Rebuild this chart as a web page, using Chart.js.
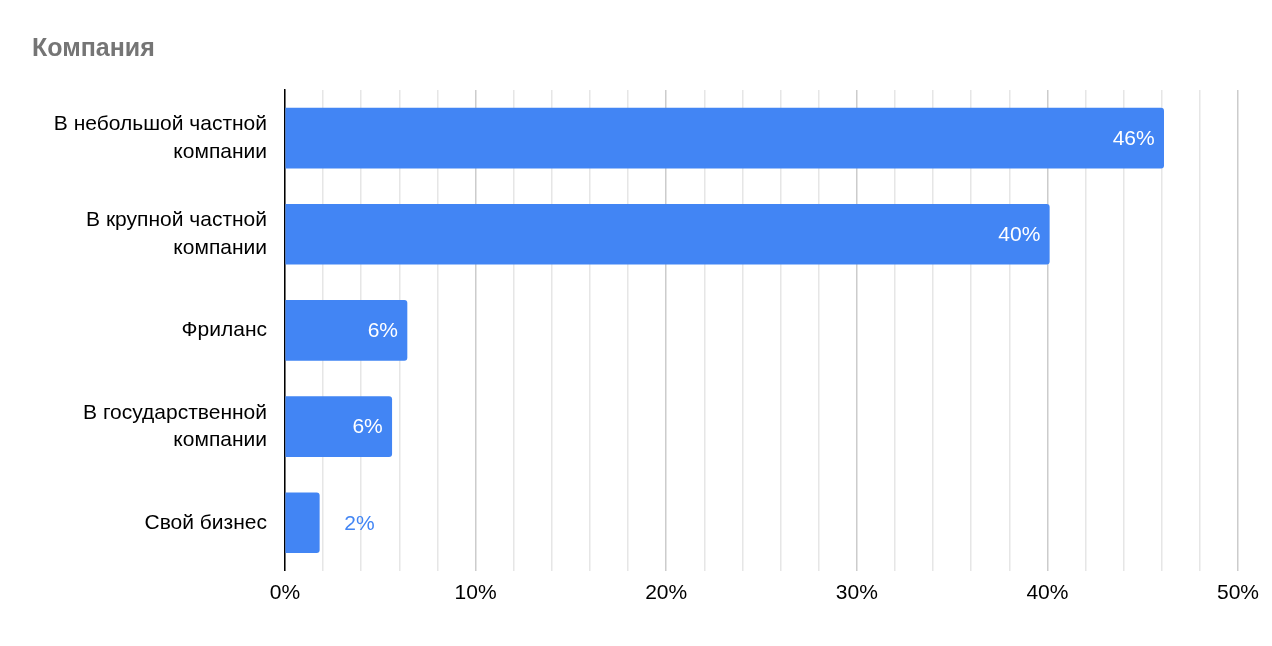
<!DOCTYPE html>
<html>
<head>
<meta charset="utf-8">
<script src="https://cdn.jsdelivr.net/npm/chart.js@4"></script>
<style>
  html, body { margin: 0; padding: 0; background: #fff; }
  #wrap { width: 1272px; height: 646px; position: relative; }
  #title { position: absolute; left: 32px; top: 33px; font: bold 25px "Liberation Sans", Arial, sans-serif; color: #757575; }
</style>
</head>
<body>
<div id="wrap">
  <div id="title">Компания</div>
  <canvas id="c" width="1272" height="646"></canvas>
</div>
<script>
const categories = [
  ['В небольшой частной', 'компании'],
  ['В крупной частной', 'компании'],
  'Фриланс',
  ['В государственной', 'компании'],
  'Свой бизнес'
];
const values = [46.1, 40.1, 6.4, 5.6, 1.8];
const valueLabels = ['46%', '40%', '6%', '6%', '2%'];
const FONT = '"Liberation Sans", Arial, sans-serif';

// подписи значений: внутри столбца белым, у коротких — снаружи синим
const valueLabelPlugin = {
  id: 'valueLabels',
  afterDatasetsDraw(chart) {
    const ctx = chart.ctx;
    const meta = chart.getDatasetMeta(0);
    ctx.save();
    ctx.font = '21px ' + FONT;
    ctx.textBaseline = 'middle';
    meta.data.forEach((bar, i) => {
      const w = bar.x - bar.base;
      if (w > 60) {
        ctx.fillStyle = '#ffffff';
        ctx.textAlign = 'right';
        ctx.fillText(valueLabels[i], bar.x - 9, bar.y + 1);
      } else {
        ctx.fillStyle = '#4285f4';
        ctx.textAlign = 'left';
        ctx.fillText(valueLabels[i], bar.x + 25, bar.y + 1);
      }
    });
    ctx.restore();
  }
};

new Chart(document.getElementById('c'), {
  type: 'bar',
  data: {
    labels: categories,
    datasets: [{
      data: values,
      backgroundColor: '#4285f4',
      borderRadius: { topRight: 3, bottomRight: 3 },
      borderSkipped: false,
      barThickness: 60
    }]
  },
  options: {
    indexAxis: 'y',
    responsive: false,
    animation: false,
    layout: { padding: { top: 90, right: 34, bottom: 30, left: 0 } },
    plugins: { legend: { display: false }, tooltip: { enabled: false } },
    scales: {
      x: {
        min: 0, max: 50,
        ticks: {
          stepSize: 2,
          autoSkip: false,
          maxRotation: 0,
          padding: 10,
          color: '#000',
          font: { size: 21, family: FONT },
          callback: v => v % 10 === 0 ? v + '%' : ''
        },
        grid: {
          color: c => c.tick && c.tick.value % 10 === 0 ? '#cccccc' : '#e6e6e6',
          lineWidth: 1.5,
          drawTicks: false
        },
        border: { display: false }
      },
      y: {
        afterFit: s => { s.width = 285; },
        ticks: {
          color: '#000',
          padding: 10,
          font: { size: 21, family: FONT, lineHeight: 1.3 }
        },
        grid: { display: false },
        border: { color: '#000', width: 1.5 }
      }
    }
  },
  plugins: [valueLabelPlugin]
});
</script>
</body>
</html>
